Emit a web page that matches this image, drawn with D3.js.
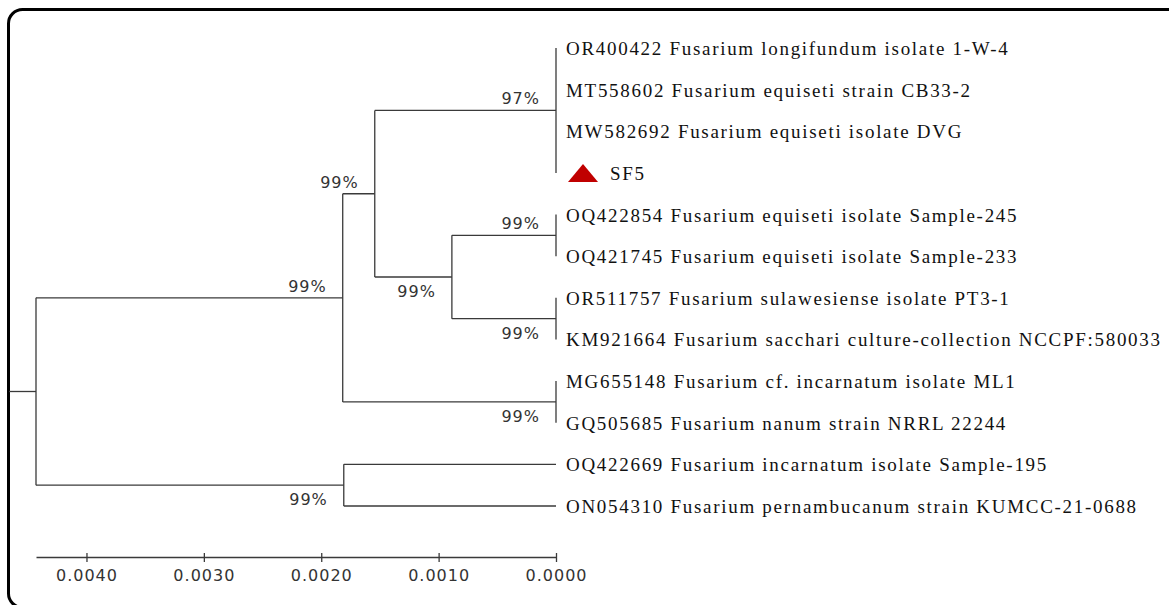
<!DOCTYPE html>
<html>
<head>
<meta charset="utf-8">
<script src="https://cdn.jsdelivr.net/npm/d3@7"></script>
<style>
  body { margin: 0; background: #fff; }
  svg { display: block; }
</style>
</head>
<body>
<div id="tree"></div>
<script>
// tree as a parent table (UPGMA, heights in substitutions/site)
const nodeIds = ["root", "n1", "n2", "n3", "n4", "n5", "n6", "n7", "n8",
    "t0", "t1", "t2", "t3", "t4", "t5", "t6", "t7", "t8", "t9", "t10", "t11"];
const parentIds = ["", "root", "root", "n1", "n1", "n3", "n3", "n6", "n6",
    "n5", "n5", "n5", "n5", "n7", "n7", "n8", "n8", "n4", "n4", "n2", "n2"];
const nodeHeights = [0.00443, 0.001817, 0.001808, 0.001544, 0, 0, 0.000887, 0, 0,
    0, 0, 0, 0, 0, 0, 0, 0, 0, 0, 0, 0];
const bootstrap = [null, "99%", "99%", "99%", "99%", "97%", "99%", "99%", "99%"];
const tipLabels = [
    "OR400422 Fusarium longifundum isolate 1-W-4",
    "MT558602 Fusarium equiseti strain CB33-2",
    "MW582692 Fusarium equiseti isolate DVG",
    "SF5",
    "OQ422854 Fusarium equiseti isolate Sample-245",
    "OQ421745 Fusarium equiseti isolate Sample-233",
    "OR511757 Fusarium sulawesiense isolate PT3-1",
    "KM921664 Fusarium sacchari culture-collection NCCPF:580033",
    "MG655148 Fusarium cf. incarnatum isolate ML1",
    "GQ505685 Fusarium nanum strain NRRL 22244",
    "OQ422669 Fusarium incarnatum isolate Sample-195",
    "ON054310 Fusarium pernambucanum strain KUMCC-21-0688"
];
const queryTip = "SF5";
const scaleTicks = [0.004, 0.003, 0.002, 0.001, 0];

const width = 1169, height = 605;
const lineColor = "#3a3a3a";

const svg = d3.select("#tree").append("svg")
    .attr("width", width)
    .attr("height", height);

// rounded frame
svg.append("rect")
    .attr("x", 8.5).attr("y", 9.5)
    .attr("width", 1180).attr("height", 598)
    .attr("rx", 14)
    .attr("fill", "none")
    .attr("stroke", "#000")
    .attr("stroke-width", 3);

const rows = nodeIds.map((id, i) => ({ id: id, parent: parentIds[i], h: nodeHeights[i], boot: bootstrap[i] || null }));
const root = d3.stratify().id(d => d.id).parentId(d => d.parent || null)(rows);

const x = d3.scaleLinear().domain([nodeHeights[0], 0]).range([36, 556]);
const y = d3.scaleLinear().domain([0, tipLabels.length - 1]).range([48, 506]);

// tip order follows tipLabels
let leafIndex = 0;
root.eachAfter(d => {
    if (!d.children) {
        d.y = y(leafIndex++);
    } else {
        d.y = (d.children[0].y + d.children[d.children.length - 1].y) / 2;
    }
    d.x = x(d.data.h);
});

const g = svg.append("g")
    .attr("fill", "none")
    .attr("stroke", lineColor)
    .attr("stroke-width", 1.3);

// root stem
g.append("line")
    .attr("x1", 9).attr("x2", root.x)
    .attr("y1", root.y).attr("y2", root.y);

root.descendants().forEach(d => {
    if (d.children) {
        g.append("line")
            .attr("x1", d.x).attr("x2", d.x)
            .attr("y1", d.children[0].y)
            .attr("y2", d.children[d.children.length - 1].y);
    }
    if (d.parent) {
        g.append("line")
            .attr("x1", d.parent.x).attr("x2", d.x)
            .attr("y1", d.y).attr("y2", d.y);
    }
});

// bootstrap values: upper child above branch, lower child below
root.descendants().filter(d => d.data.boot).forEach(d => {
    const first = d.parent.children[0] === d;
    svg.append("text")
        .attr("x", d.x - 16)
        .attr("y", first ? d.y - 6 : d.y + 20)
        .attr("text-anchor", "end")
        .attr("font-family", "DejaVu Sans, Verdana, sans-serif")
        .attr("font-size", 16)
        .attr("letter-spacing", 1)
        .attr("fill", "#333")
        .text(d.data.boot);
});

// tip labels
root.leaves().forEach((d, i) => {
    const name = tipLabels[i];
    let tx = d.x + 10;
    if (name === queryTip) {
        const cx = d.x + 27;
        svg.append("path")
            .attr("d", d3.line()([[cx - 15, d.y + 9], [cx, d.y - 9], [cx + 15, d.y + 9]]) + "Z")
            .attr("fill", "#c00000");
        tx = d.x + 54;
    }
    svg.append("text")
        .attr("x", tx)
        .attr("y", d.y + 7)
        .attr("font-family", "Liberation Serif, Times New Roman, serif")
        .attr("font-size", 19)
        .attr("letter-spacing", 1.7)
        .attr("fill", "#111")
        .text(name);
});

// distance scale
const axis = d3.axisBottom(x)
    .tickValues(scaleTicks)
    .tickFormat(d3.format(".4f"))
    .tickSizeOuter(0);

const ax = svg.append("g")
    .attr("transform", "translate(0,557)")
    .call(axis);
ax.select(".domain").attr("stroke", lineColor).attr("stroke-width", 1.3);
ax.selectAll(".tick line")
    .attr("y1", -4).attr("y2", 5)
    .attr("stroke", lineColor).attr("stroke-width", 1.3);
ax.selectAll(".tick text")
    .attr("y", 13)
    .attr("dy", "0.71em")
    .attr("font-family", "DejaVu Sans, Verdana, sans-serif")
    .attr("font-size", 16)
    .attr("letter-spacing", 1)
    .attr("fill", "#333");
</script>
</body>
</html>
